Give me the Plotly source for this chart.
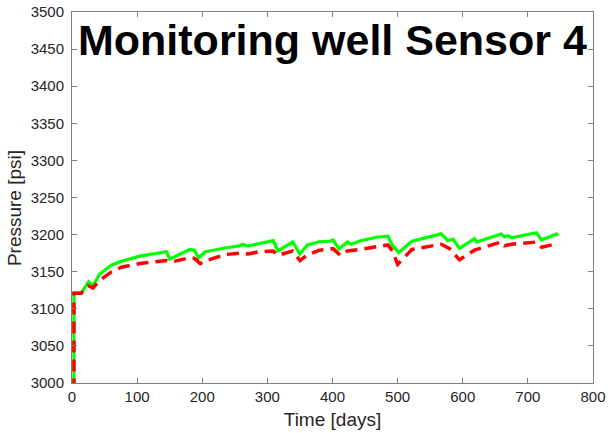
import plotly.graph_objects as go

# Green (solid) series
t_green = [3, 3, 14, 25.6, 31.8, 42.5, 61, 76, 104, 139, 145, 150, 181, 188, 194.5, 204,
           234.5, 257.5, 262, 270, 288, 309, 316, 339, 349.6, 362, 380, 395.7, 400.8, 410,
           423, 429, 441.8, 467, 485, 492, 501.7, 522, 567, 577, 585, 595, 618, 621, 659,
           664, 669.5, 674.7, 713, 721, 744, 746]
p_green = [2990, 3121, 3121, 3136.5, 3130.7, 3146.9, 3159, 3164, 3171, 3177, 3177, 3167, 3180, 3179, 3168.5, 3176.5,
           3182, 3185, 3187, 3184.6, 3188, 3191.8, 3178, 3190, 3174, 3186.4, 3190.4, 3191, 3192.7, 3180.6,
           3190, 3187, 3191.4, 3196.4, 3198, 3185.6, 3176, 3191, 3201, 3191.8, 3194, 3181.5, 3194.5, 3190, 3200.8,
           3197, 3198.5, 3195.8, 3202.6, 3192.7, 3200.8, 3198.5]

# Red (dashed) series
t_red = [3, 3, 14, 25, 32, 42, 61, 76, 104, 139, 145, 152, 181, 188, 197, 204, 234, 257, 270, 288,
         309, 316, 339, 350, 362, 380, 401, 412, 423, 442, 467, 485, 492, 500, 522, 567, 580, 595,
         618, 659, 664, 675, 713, 721, 746]
p_red = [2990, 3121, 3121, 3131, 3128, 3138, 3150, 3156, 3161, 3165, 3165, 3163, 3169, 3168, 3161, 3164, 3173, 3175, 3174, 3177,
         3178, 3172, 3178, 3165, 3173, 3179, 3181, 3172, 3178, 3180, 3184, 3186, 3178, 3160, 3180, 3187, 3181, 3166,
         3179, 3190, 3185, 3187, 3190, 3183, 3188]

x_ticks = [0, 100, 200, 300, 400, 500, 600, 700, 800]
y_ticks = [3000, 3050, 3100, 3150, 3200, 3250, 3300, 3350, 3400, 3450, 3500]

fig = go.Figure()
fig.add_trace(go.Scatter(x=t_green, y=p_green, mode="lines",
                         line=dict(color="#00ff00", width=3.2), showlegend=False))
fig.add_trace(go.Scatter(x=t_red, y=p_red, mode="lines",
                         line=dict(color="#ff0000", width=3.5, dash="12px,7px"), showlegend=False))

axis_common = dict(showgrid=False, zeroline=False, showline=True, linecolor="#7f7f7f", linewidth=1,
                   mirror="ticks", ticks="inside", ticklen=5, tickcolor="#7f7f7f", automargin=False,
                   tickfont=dict(family="Liberation Sans, Arial", size=15, color="#262626"))

fig.update_xaxes(range=[0, 800], tickvals=x_ticks, ticktext=[str(v) for v in x_ticks],
                 title=dict(text="Time [days]", font=dict(family="Liberation Sans, Arial", size=19, color="#262626"),
                            standoff=8),
                 **axis_common)
fig.update_yaxes(range=[3000, 3500], tickvals=y_ticks, ticktext=[str(v) for v in y_ticks],
                 ticklabelstandoff=4, **axis_common)

fig.add_annotation(text="Pressure [psi]", xref="paper", yref="paper", textangle=-90,
                   x=-0.109, y=0.472, xanchor="center", yanchor="middle", showarrow=False,
                   font=dict(family="Liberation Sans, Arial", size=19, color="#262626"))

fig.add_annotation(text="<b>Monitoring well Sensor 4</b>", xref="paper", yref="paper",
                   x=0.5, y=0.925, xanchor="center", yanchor="middle", showarrow=False,
                   font=dict(family="Liberation Sans, Arial", size=43, color="black"))

fig.update_layout(width=613, height=433, margin=dict(l=72, r=20, t=12, b=50),
                  plot_bgcolor="white", paper_bgcolor="white")

fig.write_html("out.html")
